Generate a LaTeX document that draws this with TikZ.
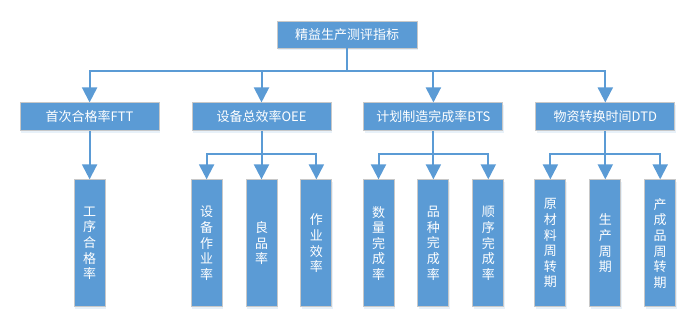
\documentclass[tikz,border=0pt]{standalone}
\usepackage{fontspec}
\setmainfont{Noto Sans CJK SC}
\usetikzlibrary{arrows.meta,positioning,shadows}
\definecolor{boxblue}{HTML}{5B9BD5}
\definecolor{boxedge}{HTML}{C8C8C8}

\begin{document}
\begin{tikzpicture}[
x=1pt,y=-1pt,
font=\fontsize{13pt}{15.6pt}\selectfont,
box/.style={rectangle,draw=boxedge,line width=0.9pt,fill=boxblue,text=white,inner sep=0pt,
  drop shadow={shadow xshift=1pt,shadow yshift=-2pt,opacity=0.2,fill=boxblue!70}},
top/.style={box,minimum width=140pt,minimum height=27pt},
cat/.style={box,minimum width=139pt,minimum height=28pt},
leaf/.style={box,align=center,minimum width=31pt,minimum height=127pt},
arr/.style={-{Triangle[length=15pt,width=15pt]},draw=boxblue,line width=2pt}
]
\useasboundingbox (0,0) rectangle (693,322);

% top level
\node[top] (root) at (347,34.5) {精益生产测评指标};

% indicators
\node[cat,below=54pt of root,xshift=-85.5pt] (oee) {设备总效率OEE};
\node[cat,left=32pt of oee] (ftt) {首次合格率FTT};
\node[cat,right=32pt of oee] (bts) {计划制造完成率BTS};
\node[cat,right=32pt of bts] (dtd) {物资转换时间DTD};

% sub indicators
\node[leaf,below=48pt of ftt] (ftt1) {工\\序\\合\\格\\率};
\node[leaf,below=48pt of oee] (oee2) {良\\品\\率};
\node[leaf,left=23pt of oee2] (oee1) {设\\备\\作\\业\\率};
\node[leaf,right=23pt of oee2] (oee3) {作\\业\\效\\率};
\node[leaf,below=48pt of bts] (bts2) {品\\种\\完\\成\\率};
\node[leaf,left=23pt of bts2] (bts1) {数\\量\\完\\成\\率};
\node[leaf,right=23pt of bts2] (bts3) {顺\\序\\完\\成\\率};
\node[leaf,below=48pt of dtd] (dtd2) {生\\产\\周\\期};
\node[leaf,left=23pt of dtd2] (dtd1) {原\\材\\料\\周\\转\\期};
\node[leaf,right=23pt of dtd2] (dtd3) {产\\成\\品\\周\\转\\期};

% connectors
\draw[arr] (root.south) -- ++(0,23) -| (ftt.north);
\draw[arr] (root.south) -- ++(0,23) -| (oee.north);
\draw[arr] (root.south) -- ++(0,23) -| (bts.north);
\draw[arr] (root.south) -- ++(0,23) -| (dtd.north);

\draw[arr] (ftt.south) -- (ftt1.north);
\draw[arr] (oee.south) -- ++(0,23) -| (oee1.north);
\draw[arr] (oee.south) -- (oee2.north);
\draw[arr] (oee.south) -- ++(0,23) -| (oee3.north);
\draw[arr] (bts.south) -- ++(0,23) -| (bts1.north);
\draw[arr] (bts.south) -- (bts2.north);
\draw[arr] (bts.south) -- ++(0,23) -| (bts3.north);
\draw[arr] (dtd.south) -- ++(0,23) -| (dtd1.north);
\draw[arr] (dtd.south) -- (dtd2.north);
\draw[arr] (dtd.south) -- ++(0,23) -| (dtd3.north);
\end{tikzpicture}
\end{document}
